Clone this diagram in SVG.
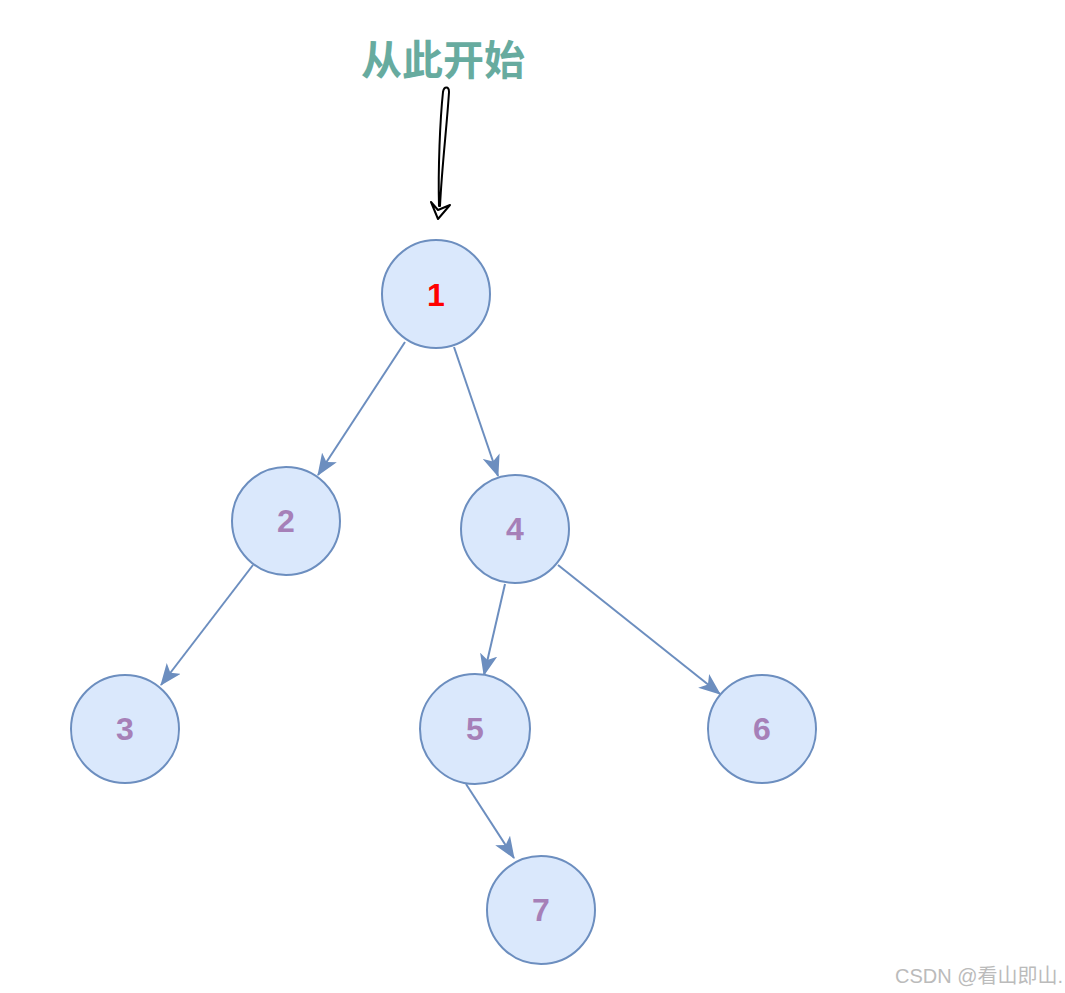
<svg xmlns="http://www.w3.org/2000/svg" width="1065" height="993" viewBox="0 0 1065 993">
<style>
.node circle{fill:#DAE8FC;stroke:#6C8EBF;stroke-width:2}
.node text{font-family:"Liberation Sans",Arial,sans-serif;font-weight:bold;font-size:32px;fill:#A680B8;text-anchor:middle}
.edge{stroke:#6C8EBF;stroke-width:2;fill:none;marker-end:url(#arr)}
</style>
<defs>
<marker id="arr" viewBox="0 0 20 16" refX="19" refY="8" markerWidth="22" markerHeight="18" markerUnits="userSpaceOnUse" orient="auto">
<path d="M0,0 L20,8 L0,16 L5,8 Z" fill="#6C8EBF"/>
</marker>
</defs>
<rect width="1065" height="993" fill="#FFFFFF"/>
<text x="443" y="75" font-family="'Noto Sans CJK SC',sans-serif" font-weight="bold" font-size="41" fill="#67AB9F" text-anchor="middle">从此开始</text>
<g id="start-arrow" fill="none" stroke="#000" stroke-width="2" stroke-linecap="round" stroke-linejoin="round">
<path d="M439,206 C438,170 440,120 443,92 C444,86 449,86 449,92 C447,125 442,165 440,206"/>
<path d="M431,202 L438,210 L450,205 L438,219 Z"/>
</g>
<g id="connectors">
<line class="edge" x1="405" y1="342" x2="318" y2="475"/>
<line class="edge" x1="454" y1="347" x2="498" y2="476"/>
<line class="edge" x1="253" y1="565" x2="161" y2="685"/>
<line class="edge" x1="505" y1="584" x2="484" y2="675"/>
<line class="edge" x1="558" y1="565" x2="720" y2="694"/>
<line class="edge" x1="466" y1="784" x2="514" y2="858"/>
</g>
<g id="n1" class="node"><circle cx="436" cy="294" r="54"/><text x="436" y="306" style="fill:#FF0000">1</text></g>
<g id="n2" class="node"><circle cx="286" cy="521" r="54"/><text x="286" y="532">2</text></g>
<g id="n4" class="node"><circle cx="515" cy="529" r="54"/><text x="515" y="540">4</text></g>
<g id="n3" class="node"><circle cx="125" cy="729" r="54"/><text x="125" y="740">3</text></g>
<g id="n5" class="node"><circle cx="475" cy="729" r="55"/><text x="475" y="740">5</text></g>
<g id="n6" class="node"><circle cx="762" cy="729" r="54"/><text x="762" y="740">6</text></g>
<g id="n7" class="node"><circle cx="541" cy="910" r="54"/><text x="541" y="921">7</text></g>
<text x="895" y="983" font-family="'Liberation Sans','Noto Sans CJK SC',sans-serif" font-size="20" fill="#BBBBBB">CSDN @看山即山.</text>
</svg>
